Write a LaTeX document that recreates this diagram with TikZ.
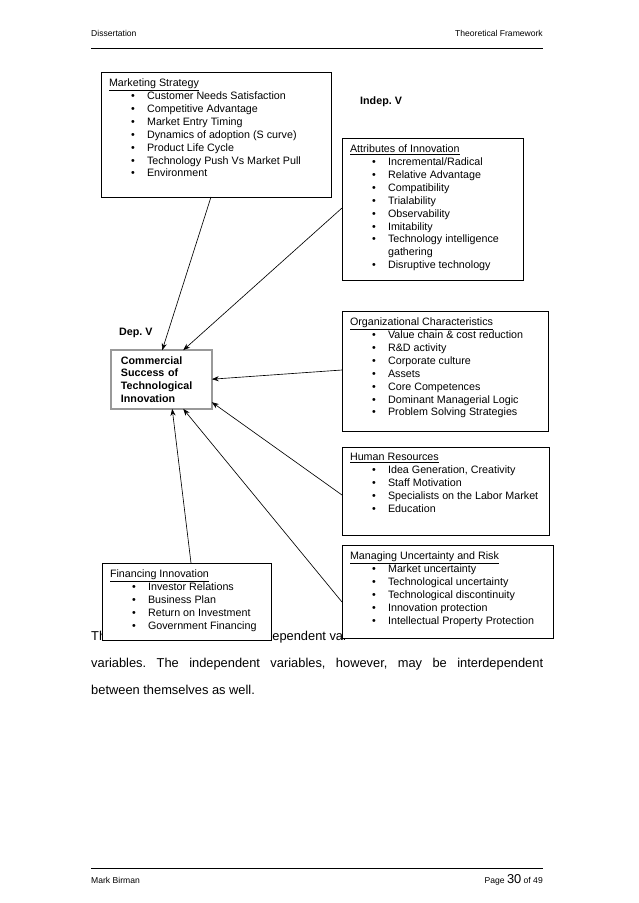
\documentclass[tikz,border=0pt]{standalone}
\usepackage{fontspec}
\setmainfont{Liberation Sans}
\usetikzlibrary{calc,arrows.meta}
\frenchspacing
\tikzset{
  factor/.style={draw=black,fill=white,line width=0.8pt,anchor=north west,outer sep=0pt,
    inner xsep=7.5pt,inner ysep=6pt,align=left,font=\fontsize{10}{12.1}\selectfont},
  depbox/.style={draw=black!85,double=black!40,double distance=1.4pt,line width=0.45pt,fill=white,
    anchor=north west,outer sep=0pt,inner xsep=9.1pt,inner ysep=0pt,minimum width=93.9pt,
    minimum height=54.7pt,text width=75.7pt,align=left,font=\bfseries\fontsize{10}{11.9}\selectfont},
  tag/.style={anchor=base west,inner sep=0pt,font=\bfseries\fontsize{10}{12}\selectfont},
  hdr/.style={inner sep=0pt,font=\fontsize{8}{9.6}\selectfont},
  body/.style={anchor=base west,inner sep=0pt,font=\fontsize{12}{14}\selectfont},
  infl/.style={draw=black,line width=0.6pt,-{Stealth[length=6.5pt,width=4.8pt]}},
}
\newcommand{\bul}{\hspace*{20.5pt}\makebox[15pt][l]{\textbullet}}
\newcommand{\cont}{\hspace*{35.5pt}}

\begin{document}
\begin{tikzpicture}[x=0.933pt,y=-0.933pt]
\useasboundingbox (0,0) rectangle (638,903);
\fill[white] (0,0) rectangle (638,903);
% page head and foot
\node[hdr,anchor=base west] (head) at (91,36) {Dissertation};
\node[hdr,anchor=base east] (chap) at (543,36) {Theoretical Framework};
\draw[line width=0.9pt] (91,48) -- (543,48);
\draw[line width=0.9pt] (91,868) -- (543,868);
\node[hdr,anchor=base west] (auth) at (91,883) {Mark Birman};
\node[hdr,anchor=base east] (page) at (543,883) {Page {\fontsize{12}{12}\selectfont 30} of 49};
% text under the boxes
\node[body] (p1) at (91,640.5) {Th};
\node[body] (p1b) at (265,640.5) {dependent var};
\node[body] (p2) at (91,667.5) {\makebox[421.7pt][s]{variables. The independent variables, however, may be interdependent}};
\node[body] (p3) at (91,694.5) {between themselves as well.};
% labels
\node[tag] (indep) at (360,104.5) {Indep. V};
\node[tag] (dep) at (119,335) {Dep. V};
% factors
\node[factor] (mkt) at (101,72) {\parbox[t][104.6pt][t]{199.6pt}{\raggedright
  \underline{Marketing Strategy}\\
  \bul Customer Needs Satisfaction\\
  \bul Competitive Advantage\\
  \bul Market Entry Timing\\
  \bul Dynamics of adoption (S curve)\\
  \bul Product Life Cycle\\
  \bul Technology Push Vs Market Pull\\
  \bul Environment}};
\node[factor] (attr) at (342,138) {\parbox[t][120.5pt][t]{153.9pt}{\raggedright
  \underline{Attributes of Innovation}\\
  \bul Incremental/Radical\\
  \bul Relative Advantage\\
  \bul Compatibility\\
  \bul Trialability\\
  \bul Observability\\
  \bul Imitability\\
  \bul Technology intelligence\\
  \cont gathering\\
  \bul Disruptive technology}};
\node[factor] (org) at (342,311) {\parbox[t][100pt][t]{177.2pt}{\raggedright
  \underline{Organizational Characteristics}\\
  \bul Value chain \& cost reduction\\
  \bul R\&D activity\\
  \bul Corporate culture\\
  \bul Assets\\
  \bul Core Competences\\
  \bul Dominant Managerial Logic\\
  \bul Problem Solving Strategies}};
\node[factor] (hr) at (342,447) {\parbox[t][70.1pt][t]{178.1pt}{\raggedright
  \underline{Human Resources}\\
  \bul Idea Generation, Creativity\\
  \bul Staff Motivation\\
  \bul Specialists on the Labor Market\\
  \bul Education}};
\node[factor] (risk) at (342,545) {\parbox[t][74.8pt][t]{181.9pt}{\raggedright
  \underline{Managing Uncertainty and Risk}\\
  \bul Market uncertainty\\
  \bul Technological uncertainty\\
  \bul Technological discontinuity\\
  \bul Innovation protection\\
  \bul Intellectual Property Protection}};
\node[factor] (fin) at (102,563) {\parbox[t][59.8pt][t]{142.7pt}{\raggedright
  \underline{Financing Innovation}\\
  \bul Investor Relations\\
  \bul Business Plan\\
  \bul Return on Investment\\
  \bul Government Financing}};
% dependent variable
\node[depbox] (succ) at (111.2,350.2) {Commercial\\Success of\\Technological\\Innovation};
% influences
\draw[infl] ($(mkt.south west)+(110,0)$) -- ($(succ.north west)+(51,0)$);
\draw[infl] ($(attr.north west)+(0,70)$) -- ($(succ.north west)+(72,0)$);
\draw[infl] ($(org.north west)+(0,59)$) -- ($(succ.north east)+(0,29)$);
\draw[infl] ($(hr.north west)+(0,48)$) -- ($(succ.north east)+(0,52)$);
\draw[infl] ($(risk.north west)+(0,57)$) -- ($(succ.south west)+(72,0)$);
\draw[infl] ($(fin.north west)+(89,0)$) -- ($(succ.south west)+(61,0)$);
\end{tikzpicture}
\end{document}
